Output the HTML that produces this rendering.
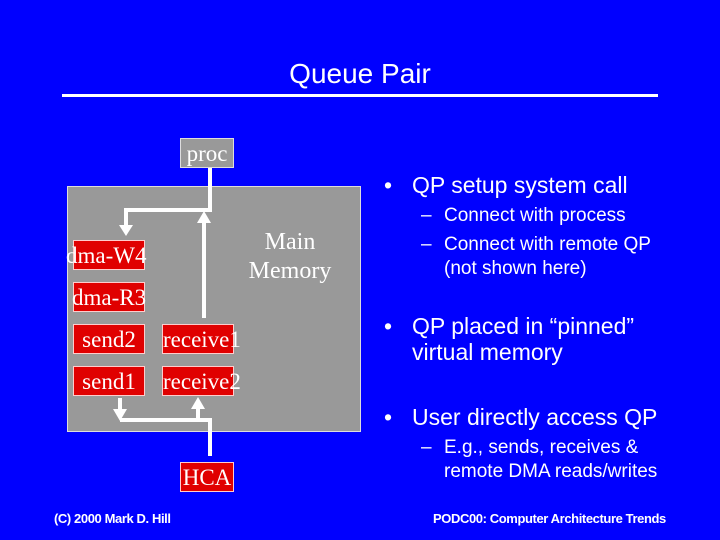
<!DOCTYPE html>
<html><head><style>
body{margin:0;width:720px;height:540px;background:#0000ff;position:relative;overflow:hidden;font-family:"Liberation Sans",sans-serif;color:#fff}
.a{position:absolute;white-space:nowrap}
.s{font-family:"Liberation Serif",serif;font-size:23px;line-height:30px;text-align:center}
.r{background:#e00000;border:1px solid #fcc;box-sizing:border-box;height:30px}
.g{background:#999;border:1px solid #ddd;box-sizing:border-box}
.b{font-size:23px;line-height:26px}
.d{font-size:19px;line-height:24px}
</style></head><body>
<div class="a" style="left:0;width:720px;top:58px;text-align:center;font-size:28px">Queue Pair</div>
<div class="a" style="left:62px;top:94px;width:596px;height:3px;background:#fff"></div>
<div class="a g" style="left:67px;top:186px;width:294px;height:246px"></div>
<div class="a g s" style="left:180px;top:138px;width:54px;height:30px">proc</div>
<div class="a s" style="left:240px;top:228px;width:100px;line-height:29px;font-size:24px">Main<br>Memory</div>
<div class="a r s" style="left:73px;top:240px;width:72px;text-indent:-8px">dma-W4</div>
<div class="a r s" style="left:73px;top:282px;width:72px;text-indent:-2px">dma-R3</div>
<div class="a r s" style="left:73px;top:324px;width:72px">send2</div>
<div class="a r s" style="left:73px;top:366px;width:72px">send1</div>
<div class="a r s" style="left:162px;top:324px;width:72px">receive1</div>
<div class="a r s" style="left:162px;top:366px;width:72px">receive2</div>
<div class="a r s" style="left:180px;top:462px;width:54px">HCA</div>
<svg class="a" style="left:0;top:0" width="720" height="540">
<g stroke="#fff" stroke-width="4" fill="none">
<polyline points="210,168 210,210 126,210 126,226"/>
<line x1="204" y1="318" x2="204" y2="222"/>
<polyline points="120,398 120,410"/>
<polyline points="120,420 210,420 210,456"/>
<line x1="198" y1="420" x2="198" y2="408"/>
</g>
<g fill="#fff">
<polygon points="119,225 133,225 126,236"/>
<polygon points="197,223 211,223 204,211"/>
<polygon points="113,409 127,409 120,421"/>
<polygon points="191,409 205,409 198,397"/>
</g>
</svg>
<div class="a b" style="left:384px;top:172px">•</div>
<div class="a b" style="left:412px;top:172px">QP setup system call</div>
<div class="a d" style="left:421px;top:204px">–</div>
<div class="a d" style="left:444px;top:204px">Connect with process</div>
<div class="a d" style="left:421px;top:233px">–</div>
<div class="a d" style="left:444px;top:233px;line-height:24px">Connect with remote QP<br>(not shown here)</div>
<div class="a b" style="left:384px;top:313px">•</div>
<div class="a b" style="left:412px;top:313px">QP placed in “pinned”<br>virtual memory</div>
<div class="a b" style="left:384px;top:404px">•</div>
<div class="a b" style="left:412px;top:404px">User directly access QP</div>
<div class="a d" style="left:421px;top:436px">–</div>
<div class="a d" style="left:444px;top:436px;line-height:24px">E.g., sends, receives &amp;<br>remote DMA reads/writes</div>
<div class="a" style="left:54px;top:511px;font-size:13px;font-weight:bold;letter-spacing:-0.4px">(C) 2000 Mark D. Hill</div>
<div class="a" style="left:433px;top:511px;font-size:13px;font-weight:bold;letter-spacing:-0.4px">PODC00: Computer Architecture Trends</div>
</body></html>
